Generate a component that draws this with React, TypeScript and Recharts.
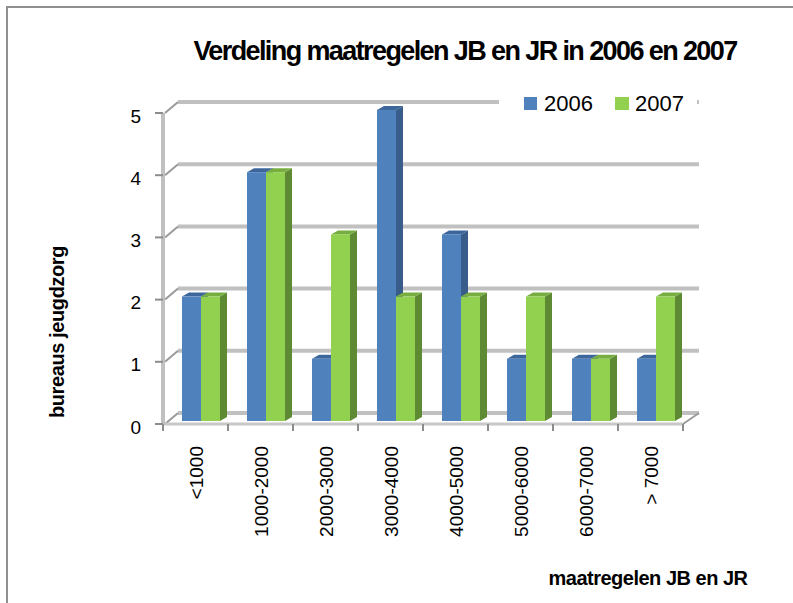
import { BarChart, Bar, XAxis, YAxis, CartesianGrid } from 'recharts'

const categories = ['<1000', '1000-2000', '2000-3000', '3000-4000', '4000-5000', '5000-6000', '6000-7000', '> 7000']
const values2006 = [2, 4, 1, 5, 3, 1, 1, 1]
const values2007 = [2, 4, 3, 2, 2, 2, 1, 2]
const yTicks = [0, 1, 2, 3, 4, 5]

const data = categories.map((cat, i) => ({ cat, y2006: values2006[i], y2007: values2007[i] }))

const FONT = '"Liberation Sans", Arial, sans-serif'
const STEP = 65 // breedte van een categorie in px

// 3D-balk: voorvlak, zijvlak en bovenvlak
function Box(props: any) {
  const { x, y, width: w, height: h, front, side, top } = props
  if (!h || h <= 0) return null
  const X = x + 5
  const Y = y - 3
  const dx = 7
  const dy = 4
  return (
    <g>
      <polygon points={`${X + w},${Y} ${X + w + dx},${Y - dy} ${X + w + dx},${Y + h - dy} ${X + w},${Y + h}`} fill={side} />
      <polygon points={`${X},${Y} ${X + dx},${Y - dy} ${X + w + dx},${Y - dy} ${X + w},${Y}`} fill={top} />
      <rect x={X} y={Y} width={w} height={h} fill={front} />
    </g>
  )
}

function XTick(props: any) {
  const { x, y, payload, index } = props
  return (
    <g>
      <line x1={x - STEP / 2} y1={y} x2={x - STEP / 2} y2={y + 7} stroke="#8c8c8c" strokeWidth={2} />
      {index === categories.length - 1 && (
        <line x1={x + STEP / 2} y1={y} x2={x + STEP / 2} y2={y + 7} stroke="#8c8c8c" strokeWidth={2} />
      )}
      <text
        x={x + 1}
        y={y + 22}
        transform={`rotate(-90, ${x + 1}, ${y + 22})`}
        textAnchor="end"
        dominantBaseline="central"
        fontFamily={FONT}
        fontSize={19}
        fill="#000"
      >
        {payload.value}
      </text>
    </g>
  )
}

function YTick(props: any) {
  const { x, y, payload } = props
  return (
    <g>
      <line x1={x - 8} y1={y} x2={x} y2={y} stroke="#8c8c8c" strokeWidth={2} />
      <text x={x - 22} y={y + 3} textAnchor="end" dominantBaseline="central" fontFamily={FONT} fontSize={19} fill="#000">
        {payload.value}
      </text>
    </g>
  )
}

// achterwand-lijn plus schuine verbinding naar de as
function BackLine(p: any) {
  return (
    <g key={p.key ?? p.index}>
      <line x1={p.x1 + 15} y1={p.y1 - 11} x2={p.x2 + 16} y2={p.y2 - 11} stroke="#c0c0c0" strokeWidth={4} />
      <line x1={p.x1 + 2} y1={p.y1} x2={p.x1 + 15} y2={p.y1 - 11} stroke="#9a9a9a" strokeWidth={2} />
      {p.index === 0 && (
        <line x1={p.x2} y1={p.y1} x2={p.x2 + 16} y2={p.y1 - 11} stroke="#9a9a9a" strokeWidth={2} />
      )}
    </g>
  )
}

export default function App() {
  return (
    <div style={{ position: 'absolute', left: 0, top: 0, width: 793, height: 603, background: '#fff' }}>
      <BarChart
        width={793}
        height={603}
        data={data}
        margin={{ top: 113, right: 110, bottom: 178, left: 162 }}
        barSize={19}
        barGap={0}
      >
        <CartesianGrid vertical={false} horizontal={BackLine} />
        <XAxis
          dataKey="cat"
          height={1}
          tickSize={0}
          tickMargin={0}
          tickLine={false}
          interval={0}
          axisLine={{ stroke: '#c8c8c8', strokeWidth: 3 }}
          tick={(p: any) => <XTick {...p} />}
        />
        <YAxis
          width={1}
          domain={[0, 5]}
          ticks={yTicks}
          tickSize={0}
          tickMargin={0}
          tickLine={false}
          axisLine={{ stroke: '#c0c0c0', strokeWidth: 4 }}
          tick={(p: any) => <YTick {...p} />}
        />
        <Bar
          dataKey="y2006"
          name="2006"
          isAnimationActive={false}
          shape={(p: any) => <Box {...p} front="#4f81bd" side="#385d8a" top="#3d679b" />}
        />
        <Bar
          dataKey="y2007"
          name="2007"
          isAnimationActive={false}
          shape={(p: any) => <Box {...p} front="#92d050" side="#5f8a34" top="#77ad41" />}
        />
      </BarChart>

      <svg width={793} height={603} style={{ position: 'absolute', left: 0, top: 0, pointerEvents: 'none' }}>
        <line x1={7} y1={7} x2={7} y2={603} stroke="#8f8f8f" strokeWidth={2} />
        <line x1={6} y1={7} x2={793} y2={7} stroke="#8f8f8f" strokeWidth={2} />

        <text x={465} y={60} textAnchor="middle" fontFamily={FONT} fontWeight="bold" fontSize={27} letterSpacing={-1.6} fill="#000">
          Verdeling maatregelen JB en JR in 2006 en 2007
        </text>

        <text
          x={57}
          y={332}
          transform="rotate(-90, 57, 332)"
          textAnchor="middle"
          dominantBaseline="central"
          fontFamily={FONT}
          fontWeight="bold"
          fontSize={20}
          letterSpacing={-0.4}
          fill="#000"
        >
          bureaus jeugdzorg
        </text>

        <text x={648} y={585} textAnchor="middle" fontFamily={FONT} fontWeight="bold" fontSize={20} letterSpacing={-0.5} fill="#000">
          maatregelen JB en JR
        </text>

        <rect x={499} y={88} width={198} height={30} fill="#fff" />
        <rect x={524} y={97} width={13} height={13} fill="#4f81bd" />
        <text x={544} y={111} fontFamily={FONT} fontSize={22} fill="#000">2006</text>
        <rect x={615} y={97} width={14} height={13} fill="#92d050" />
        <text x={635} y={111} fontFamily={FONT} fontSize={22} fill="#000">2007</text>
      </svg>
    </div>
  )
}
